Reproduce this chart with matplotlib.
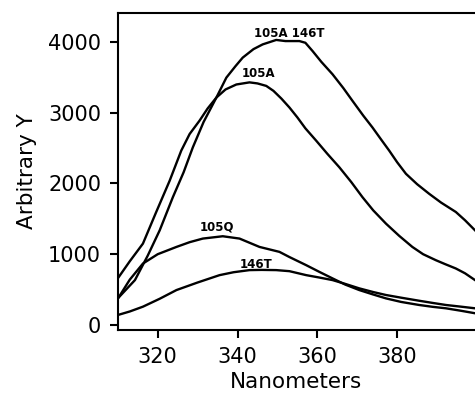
import matplotlib.pyplot as plt

nm_a146t = [310, 314.3, 317.5, 320.5, 323.8, 326.5, 328.8, 331.5, 334.7, 337.2, 339.5, 341.3, 344, 346.3, 349.7, 352, 355.5, 357, 358.8, 361, 363.8, 366.5, 368.8, 371.5, 373.8, 376, 378, 380, 382.2, 385, 388, 391, 394.7, 397, 399.5]
y_a146t = [375, 634, 980, 1338, 1807, 2160, 2511, 2870, 3215, 3497, 3660, 3780, 3900, 3967, 4030, 4014, 4014, 3990, 3873, 3720, 3545, 3350, 3169, 2960, 2793, 2620, 2465, 2300, 2137, 1990, 1855, 1730, 1597, 1480, 1338]

nm_a = [310, 313, 316.3, 319.5, 323, 325.9, 328, 330.5, 332.5, 334.7, 337, 339.7, 343, 345, 347.2, 349, 351, 353, 355, 357, 359.7, 362.5, 365.5, 368.5, 371.3, 374, 377.2, 380.5, 383.8, 386.5, 389.7, 392, 394.7, 397, 399.5]
y_a = [658, 900, 1150, 1580, 2040, 2465, 2700, 2890, 3060, 3215, 3330, 3400, 3430, 3415, 3380, 3310, 3200, 3075, 2934, 2780, 2606, 2420, 2230, 2020, 1807, 1620, 1432, 1260, 1103, 1000, 915, 860, 798, 730, 634]

nm_q = [310, 313, 316.3, 320, 324.7, 328, 331.3, 336.3, 340.5, 345.5, 350.5, 353, 357.2, 360.5, 363.8, 367, 370.5, 374, 377.2, 381, 385.5, 389, 392.2, 396, 399.5]
y_q = [370, 640, 868, 1000, 1103, 1170, 1221, 1254, 1221, 1103, 1033, 960, 845, 750, 658, 570, 493, 430, 375, 325, 282, 255, 235, 200, 165]

nm_t = [310, 313, 316.3, 320.5, 324.7, 330, 335.5, 339, 343, 346, 349.7, 353, 357.2, 360.5, 363.8, 367, 370.5, 374, 377.2, 381, 385.5, 389, 392.2, 396, 399.5]
y_t = [140, 190, 258, 370, 493, 600, 704, 745, 775, 778, 775, 760, 704, 670, 634, 580, 517, 465, 423, 385, 342, 310, 282, 258, 235]

labels = ["105A 146T", "105A", "105Q", "146T"]
label_x = [353, 345.3, 334.9, 344.6]
label_y = [4120, 3560, 1390, 855]

plt.rcParams['font.family'] = ['DejaVu Sans']
fig = plt.figure(figsize=(4.75, 3.96), dpi=100)
ax = fig.add_axes([0.248, 0.167, 0.752, 0.8])

for xs, ys in [(nm_a146t, y_a146t), (nm_a, y_a), (nm_q, y_q), (nm_t, y_t)]:
    ax.plot(xs, ys, color="black", lw=1.7)

for lab, lx, ly in zip(labels, label_x, label_y):
    ax.text(lx, ly, lab, fontsize=8.5, fontweight="bold", ha="center", va="center")

ax.set_xlim(310, 399.5)
ax.set_ylim(-70, 4410)
ax.set_xticks([320, 340, 360, 380])
ax.set_yticks([0, 1000, 2000, 3000, 4000])
ax.spines["right"].set_visible(False)
for s in ["left", "bottom", "top"]:
    ax.spines[s].set_linewidth(1.5)
ax.tick_params(direction="out", length=6, width=1.5, labelsize=15, pad=6)
ax.set_xlabel("Nanometers", fontsize=15.5, labelpad=4)
ax.set_ylabel("Arbitrary Y", fontsize=15.5, labelpad=8)

fig.savefig("out.png", dpi=100)
